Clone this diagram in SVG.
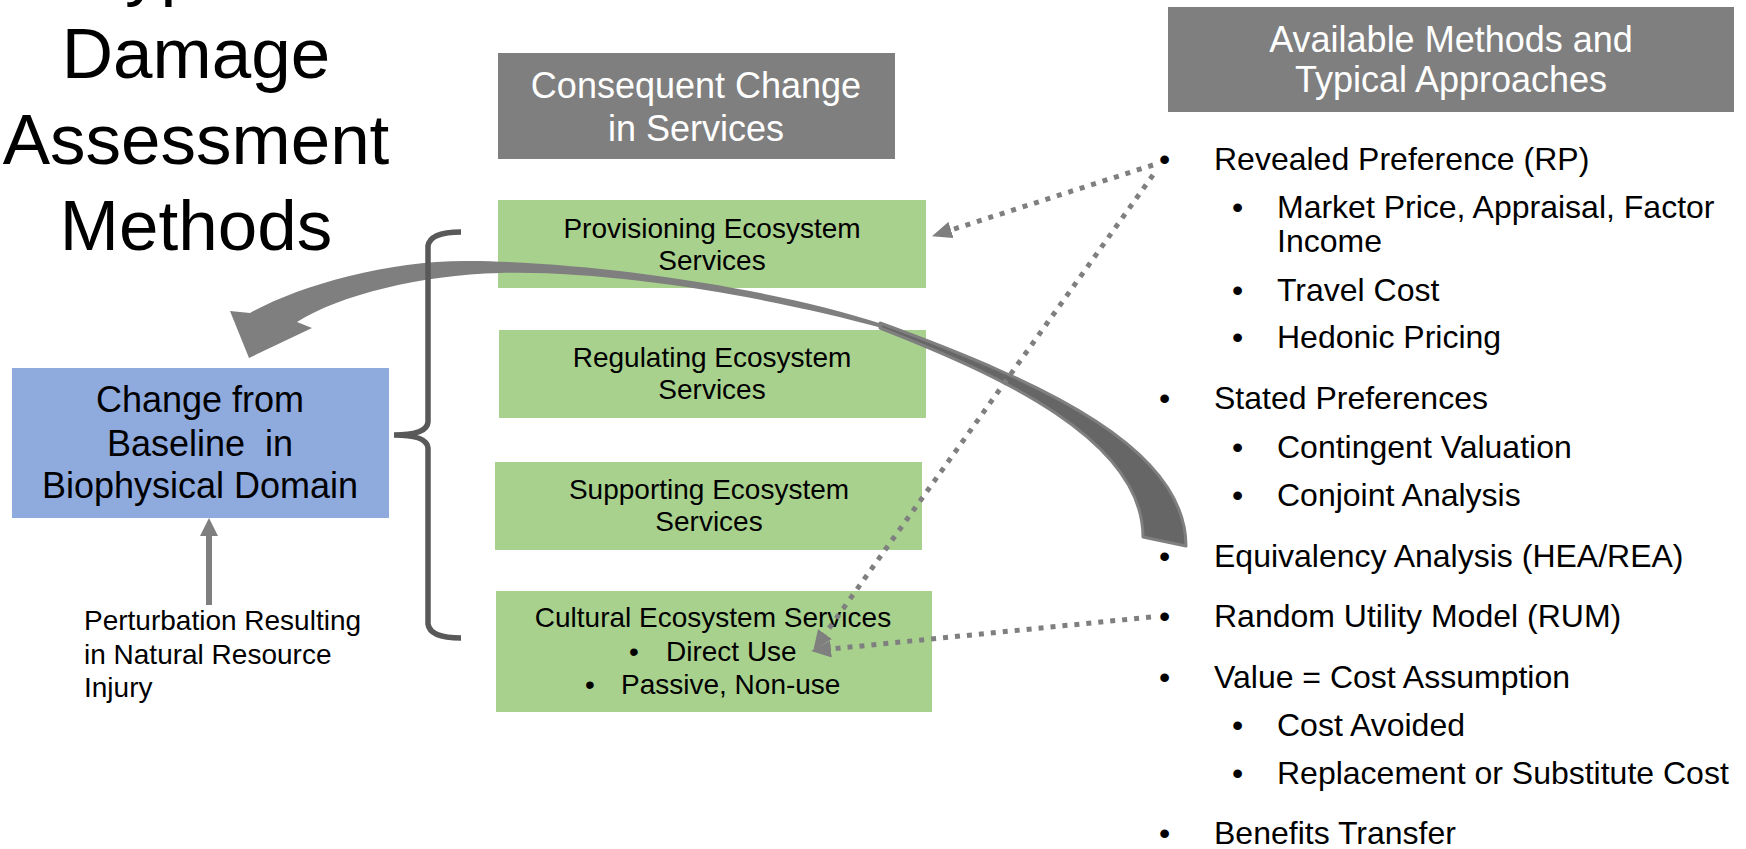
<svg xmlns="http://www.w3.org/2000/svg" width="1746" height="849" viewBox="0 0 1746 849">
<style>
text { font-family: "Liberation Sans", Arial, sans-serif; fill: #000; }
.title { font-size: 71px; text-anchor: middle; }
.hdr { font-size: 36px; fill: #fff; text-anchor: middle; }
.bt { font-size: 28px; text-anchor: middle; }
.bl { font-size: 28px; }
.blue { font-size: 36px; text-anchor: middle; }
.li { font-size: 32px; }
.green { fill: #A9D18E; }
.gray { fill: #7F7F7F; }
.dot { fill: none; stroke: #7F7F7F; stroke-width: 5; stroke-dasharray: 5 7; }
</style>
<defs>
<marker id="ahDot" viewBox="0 0 10 10" refX="0" refY="5" markerUnits="userSpaceOnUse" markerWidth="20" markerHeight="17" orient="auto" preserveAspectRatio="none">
<path d="M0,0 L10,5 L0,10 z" fill="#7F7F7F"/>
</marker>
<marker id="ahSolid" viewBox="0 0 10 10" refX="0" refY="5" markerUnits="userSpaceOnUse" markerWidth="18" markerHeight="18" orient="auto" preserveAspectRatio="none">
<path d="M0,0 L10,5 L0,10 z" fill="#7F7F7F"/>
</marker>
</defs>

<g id="title">
<text class="title" x="196" y="-8">Typical</text>
<text class="title" x="196" y="78">Damage</text>
<text class="title" x="196" y="164">Assessment</text>
<text class="title" x="196" y="250">Methods</text>
</g>

<g id="header-services">
<rect class="gray" x="498" y="53" width="397" height="106"/>
<text class="hdr" x="696" y="98">Consequent Change</text>
<text class="hdr" x="696" y="141">in Services</text>
</g>

<g id="header-methods">
<rect class="gray" x="1168" y="7" width="566" height="105"/>
<text class="hdr" x="1451" y="52">Available Methods and</text>
<text class="hdr" x="1451" y="92">Typical Approaches</text>
</g>

<g id="biophysical">
<rect x="12" y="368" width="377" height="150" fill="#8FAADC"/>
<text class="blue" x="200" y="412">Change from</text>
<text class="blue" x="200" y="456" xml:space="preserve">Baseline  in</text>
<text class="blue" x="200" y="498">Biophysical Domain</text>
</g>

<g id="perturbation">
<text class="bl" x="84" y="630">Perturbation Resulting</text>
<text class="bl" x="84" y="664">in Natural Resource</text>
<text class="bl" x="84" y="697">Injury</text>
</g>

<g id="provisioning">
<rect class="green" x="498" y="200" width="428" height="88"/>
<text class="bt" x="712" y="238">Provisioning Ecosystem</text>
<text class="bt" x="712" y="270">Services</text>
</g>

<g id="regulating">
<rect class="green" x="499" y="330" width="427" height="88"/>
<text class="bt" x="712" y="367">Regulating Ecosystem</text>
<text class="bt" x="712" y="399">Services</text>
</g>

<g id="supporting">
<rect class="green" x="495" y="462" width="427" height="88"/>
<text class="bt" x="709" y="499">Supporting Ecosystem</text>
<text class="bt" x="709" y="531">Services</text>
</g>

<g id="cultural">
<rect class="green" x="496" y="591" width="436" height="121"/>
<text class="bt" x="713" y="627">Cultural Ecosystem Services</text>
<text class="bl" x="629" y="661">•</text>
<text class="bl" x="666" y="661">Direct Use</text>
<text class="bl" x="585" y="694">•</text>
<text class="bl" x="621" y="694">Passive, Non-use</text>
</g>

<g id="connectors">
<line x1="209" y1="605" x2="209" y2="536" stroke="#7F7F7F" stroke-width="6" marker-end="url(#ahSolid)"/>
<path d="M880,323 C1050,385 1186,450 1186,546 L1143,537 C1143,440 1000,375 880,328 Z" fill="#666666" stroke="#7F7F7F" stroke-width="3" stroke-linejoin="round"/>
<path d="M882,324 C780,290 600,262 470,261 C390,260 300,285 250,313 L230,311 L249,358 L312,328 L297,322 C340,295 420,275 500,273 C620,270 780,300 882,328 Z" fill="#7F7F7F"/>
</g>

<g id="brace">
<path d="M461,232 Q430,232 428,246 L428,422 Q427,435 394,435 Q427,435 428,448 L428,624 Q430,638 461,638" fill="none" stroke="#595959" stroke-width="5.5"/>
</g>

<g id="dotted-connectors">
<line class="dot" x1="1153" y1="165" x2="951" y2="230" marker-end="url(#ahDot)"/>
<line class="dot" x1="1153" y1="175" x2="825" y2="634" marker-end="url(#ahDot)"/>
<line class="dot" x1="1151" y1="617" x2="831" y2="649" marker-end="url(#ahDot)"/>
</g>

<g id="methods-list">
<text class="li" x="1159" y="170">•</text><text class="li" x="1214" y="170">Revealed Preference (RP)</text>
<text class="li" x="1232" y="218">•</text><text class="li" x="1277" y="218">Market Price, Appraisal, Factor</text>
<text class="li" x="1277" y="252">Income</text>
<text class="li" x="1232" y="301">•</text><text class="li" x="1277" y="301">Travel Cost</text>
<text class="li" x="1232" y="348">•</text><text class="li" x="1277" y="348">Hedonic Pricing</text>
<text class="li" x="1159" y="409">•</text><text class="li" x="1214" y="409">Stated Preferences</text>
<text class="li" x="1232" y="458">•</text><text class="li" x="1277" y="458">Contingent Valuation</text>
<text class="li" x="1232" y="506">•</text><text class="li" x="1277" y="506">Conjoint Analysis</text>
<text class="li" x="1159" y="567">•</text><text class="li" x="1214" y="567">Equivalency Analysis (HEA/REA)</text>
<text class="li" x="1159" y="627">•</text><text class="li" x="1214" y="627">Random Utility Model (RUM)</text>
<text class="li" x="1159" y="688">•</text><text class="li" x="1214" y="688">Value = Cost Assumption</text>
<text class="li" x="1232" y="736">•</text><text class="li" x="1277" y="736">Cost Avoided</text>
<text class="li" x="1232" y="784">•</text><text class="li" x="1277" y="784">Replacement or Substitute Cost</text>
<text class="li" x="1159" y="844">•</text><text class="li" x="1214" y="844">Benefits Transfer</text>
</g>
</svg>
